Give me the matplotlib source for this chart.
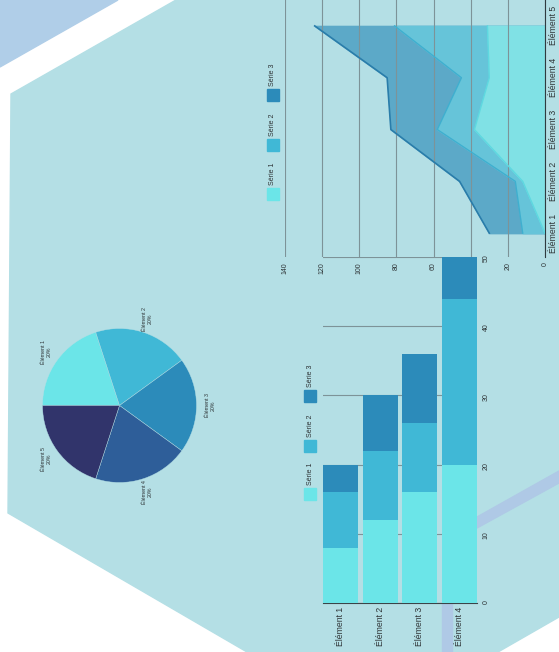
import matplotlib
matplotlib.use('Agg')
import matplotlib.pyplot as plt
from matplotlib.patches import Polygon, Rectangle
from matplotlib import font_manager

# narrow font if present, the slide uses a condensed face
names = {f.name for f in font_manager.fontManager.ttflist}
narrow = 'Liberation Sans Narrow' if 'Liberation Sans Narrow' in names else 'Liberation Sans'
plt.rcParams['font.family'] = [narrow, 'DejaVu Sans']

W, H = 559, 652
BG = '#B4DFE5'
TXT = '#2E3436'
GRID = '#7D9398'
C1, C2, C3 = '#6BE5E8', '#40B8D6', '#2C8BBA'

# ---- data ----
series = ['Série 1', 'Série 2', 'Série 3']

area_cats = ['Élément 1', 'Élément 2', 'Élément 3', 'Élément 4', 'Élément 5']
area_s1 = [0, 12, 38, 30, 31]
area_s2 = [12, 16, 58, 45, 81]
area_s3 = [30, 46, 83, 85, 124]

bar_cats = ['Élément 1', 'Élément 2', 'Élément 3', 'Élément 4']
bar_s1 = [8, 12, 16, 20]
bar_s2 = [8, 10, 10, 24]
bar_s3 = [4, 8, 10, 6]

pie_cats = ['Élément 1', 'Élément 2', 'Élément 3', 'Élément 4', 'Élément 5']
pie_vals = [20, 20, 20, 20, 20]
pie_colors = ['#6BE5E8', '#40B8D6', '#2C8BBA', '#2E5E99', '#31346B']


def box(x0, y0, x1, y1):
    return [x0 / W, 1 - y1 / H, (x1 - x0) / W, (y1 - y0) / H]


def fxy(x, y):
    return x / W, 1 - y / H


fig = plt.figure(figsize=(W / 100, H / 100), dpi=100)

# ---- background shapes ----
bg = fig.add_axes([0, 0, 1, 1])
bg.set_xlim(0, W); bg.set_ylim(H, 0); bg.axis('off')
bg.add_patch(Rectangle((0, 0), W, H, color='white'))
bg.add_patch(Polygon([(176, 0), (559, 0), (559, 617), (498, 652), (247, 652),
                      (8, 513), (11, 94)], color=BG))
bg.add_patch(Polygon([(0, 0), (118, 0), (0, 67)], color='#B0CEE8'))
bg.add_patch(Polygon([(477, 517), (559, 471), (559, 483), (477, 528)], color='#AFC9E6'))
bg.add_patch(Rectangle((442, 603), 10, 49, color='#AFC9E6'))

# ---- area chart (rotated) ----
ax = fig.add_axes(box(285, 0, 545, 257))
ax.patch.set_alpha(0)
ypos = list(range(len(area_cats)))
ax.fill_betweenx(ypos, 0, area_s3, color='#5CA9C8', zorder=1)
ax.fill_betweenx(ypos, 0, area_s2, color='#66C4D9', zorder=1.1)
ax.fill_betweenx(ypos, 0, area_s1, color='#80E1E5', zorder=1.2)
ax.plot(area_s3, ypos, color='#2A7DAA', lw=1.2, zorder=3)
ax.plot(area_s2, ypos, color='#3FAFCF', lw=1, zorder=3)
ax.plot(area_s1, ypos, color='#5ED8E0', lw=1, zorder=3)
ax.set_xlim(140, 0)
ax.set_ylim(-0.46, 4.5)
ax.set_xticks(range(0, 141, 20))
ax.xaxis.grid(True, color=GRID, lw=0.8)
ax.set_axisbelow(False)
for s in ['left', 'top', 'bottom']:
    ax.spines[s].set_visible(False)
ax.spines['right'].set_color('#2F3B40')
ax.yaxis.tick_right()
ax.set_yticks(ypos)
ax.set_yticklabels(area_cats, rotation=90, va='center', fontsize=6.2, color=TXT)
ax.tick_params(axis='y', length=0, pad=3)
ax.tick_params(axis='x', length=0, pad=4, labelsize=5, labelcolor=TXT, labelrotation=90)

# ---- stacked bar chart (rotated) ----
bx = fig.add_axes(box(323, 257, 477, 603))
bx.patch.set_alpha(0)
xpos = list(range(len(bar_cats)))
b2 = [a + b for a, b in zip(bar_s1, bar_s2)]
bx.bar(xpos, bar_s1, width=0.89, color=C1, zorder=3)
bx.bar(xpos, bar_s2, width=0.89, bottom=bar_s1, color=C2, zorder=3)
bx.bar(xpos, bar_s3, width=0.89, bottom=b2, color=C3, zorder=3)
bx.set_xlim(-0.45, 3.45)
bx.set_ylim(0, 50)
bx.set_yticks(range(0, 51, 10))
bx.yaxis.grid(True, color=GRID, lw=0.8)
bx.set_axisbelow(True)
for s in ['left', 'top', 'right']:
    bx.spines[s].set_visible(False)
bx.spines['bottom'].set_color('#3A4448')
bx.yaxis.tick_right()
bx.set_xticks(xpos)
bx.set_xticklabels(bar_cats, rotation=90, fontsize=6.2, color=TXT)
bx.tick_params(axis='x', length=0, pad=3)
bx.tick_params(axis='y', length=0, pad=4, labelsize=5, labelcolor=TXT, labelrotation=90)

# ---- pie ----
cx, cy, r = 119.5, 405.5, 77
px = fig.add_axes(box(cx - 1.6 * r, cy - 1.6 * r, cx + 1.6 * r, cy + 1.6 * r))
labels = ['%s\n%d%%' % (c, v) for c, v in zip(pie_cats, pie_vals)]
wedges, texts = px.pie(pie_vals, labels=labels, colors=pie_colors, startangle=180,
                       counterclock=False, labeldistance=1.18,
                       wedgeprops=dict(edgecolor=BG, linewidth=0.3),
                       textprops=dict(fontsize=3.8, color=TXT))
for t in texts:
    t.set_rotation(90)
    t.set_ha('center'); t.set_va('center'); t.set_multialignment('center')
px.set_xlim(-1.6, 1.6); px.set_ylim(-1.6, 1.6)
px.axis('off')

# ---- legends (rotated, drawn by hand) ----
def legend(x, ys, size=12):
    for name, col, y in zip(series, [C1, C2, C3], ys):
        fig.patches.append(Rectangle(fxy(x, y + size), size / W, size / H, color=col,
                                     transform=fig.transFigure, figure=fig))
        fig.text(*fxy(x + size / 2, y - 3), name, rotation=90, ha='center', va='bottom',
                 fontsize=5, color=TXT)

legend(267, [188, 139, 89])
legend(304, [488, 440, 390])

plt.savefig('out.png', dpi=100)
